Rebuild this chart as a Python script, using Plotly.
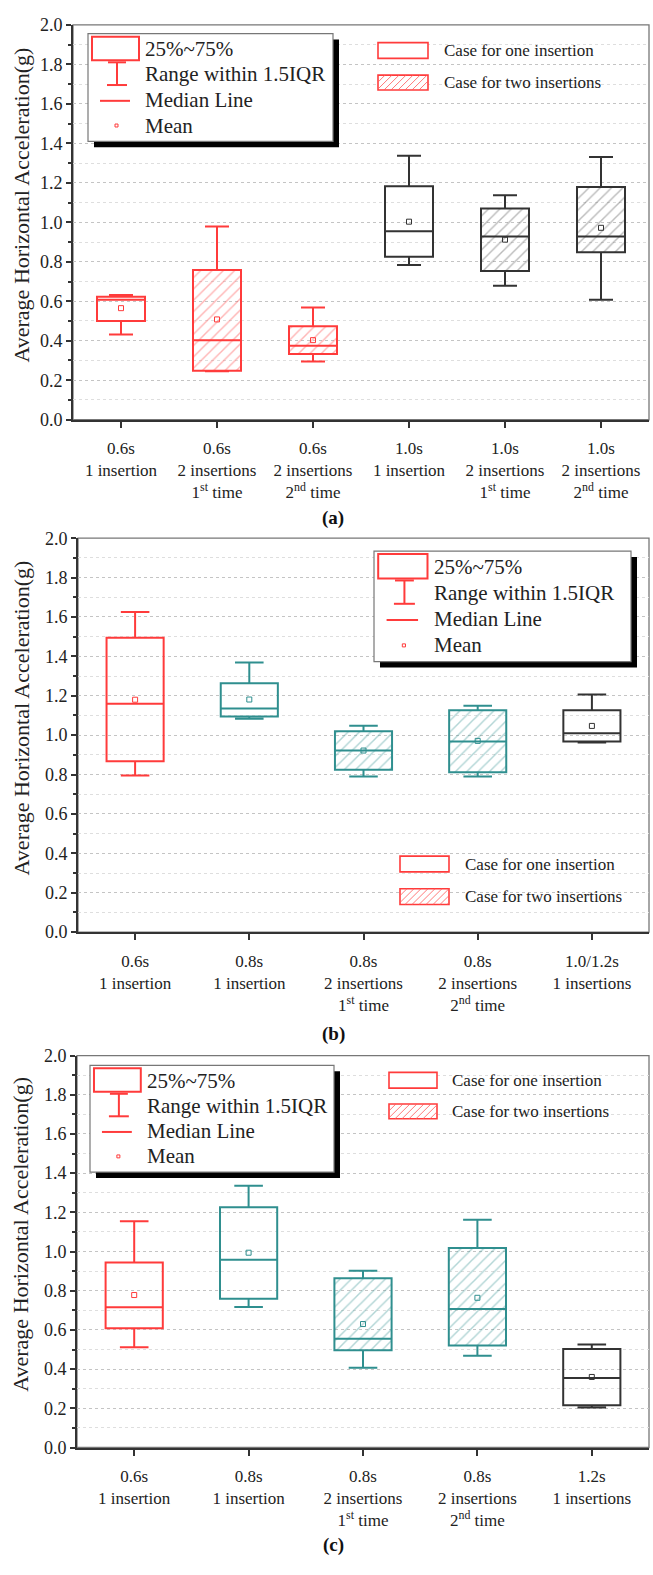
import plotly.graph_objects as go

W, H = 653, 1575
FONT = "'Times New Roman', 'Liberation Serif', 'DejaVu Serif', serif"
TXT = "#222222"

RED = "#ff3b3b"
TEAL = "#2f8f8f"
BLK = "#333333"
HATCH = {RED: "rgba(255,80,80,0.85)", TEAL: "rgba(47,143,143,0.75)", BLK: "rgba(60,60,60,0.7)"}

# ---------------- data: panel (a) ----------------
a_labels = ["0.6s<br>1 insertion", "0.6s<br>2 insertions<br>1<sup>st</sup> time",
            "0.6s<br>2 insertions<br>2<sup>nd</sup> time", "1.0s<br>1 insertion",
            "1.0s<br>2 insertions<br>1<sup>st</sup> time", "1.0s<br>2 insertions<br>2<sup>nd</sup> time"]
a_lower = [0.432, 0.245, 0.295, 0.783, 0.678, 0.608]
a_q1 = [0.500, 0.248, 0.333, 0.825, 0.753, 0.848]
a_median = [0.608, 0.403, 0.375, 0.955, 0.928, 0.928]
a_q3 = [0.623, 0.758, 0.473, 1.183, 1.070, 1.178]
a_upper = [0.632, 0.978, 0.568, 1.337, 1.137, 1.330]
a_mean = [0.565, 0.508, 0.403, 1.003, 0.912, 0.972]
a_insertions = [1, 2, 2, 1, 2, 2]

# ---------------- data: panel (b) ----------------
b_labels = ["0.6s<br>1 insertion", "0.8s<br>1 insertion",
            "0.8s<br>2 insertions<br>1<sup>st</sup> time", "0.8s<br>2 insertions<br>2<sup>nd</sup> time",
            "1.0/1.2s<br>1 insertions"]
b_lower = [0.795, 1.084, 0.790, 0.790, 0.963]
b_q1 = [0.867, 1.095, 0.825, 0.812, 0.968]
b_median = [1.159, 1.136, 0.922, 0.968, 1.010]
b_q3 = [1.495, 1.263, 1.020, 1.126, 1.126]
b_upper = [1.626, 1.369, 1.048, 1.149, 1.206]
b_mean = [1.180, 1.181, 0.922, 0.971, 1.047]
b_insertions = [1, 1, 2, 2, 1]

# ---------------- data: panel (c) ----------------
c_labels = ["0.6s<br>1 insertion", "0.8s<br>1 insertion",
            "0.8s<br>2 insertions<br>1<sup>st</sup> time", "0.8s<br>2 insertions<br>2<sup>nd</sup> time",
            "1.2s<br>1 insertions"]
c_lower = [0.511, 0.717, 0.407, 0.468, 0.204]
c_q1 = [0.608, 0.759, 0.496, 0.521, 0.215]
c_median = [0.716, 0.958, 0.555, 0.707, 0.355]
c_q3 = [0.944, 1.226, 0.864, 1.018, 0.503]
c_upper = [1.154, 1.336, 0.902, 1.162, 0.525]
c_mean = [0.778, 0.994, 0.630, 0.764, 0.360]
c_insertions = [1, 1, 2, 2, 1]

y_ticks = [0.0, 0.2, 0.4, 0.6, 0.8, 1.0, 1.2, 1.4, 1.6, 1.8, 2.0]

# ---------------- styles ----------------
a_colors = [RED, RED, RED, BLK, BLK, BLK]
b_colors = [RED, TEAL, TEAL, TEAL, BLK]
c_colors = [RED, TEAL, TEAL, TEAL, BLK]

# plot areas in pixels (left, right, top, bottom)
areas = [(73, 649, 15, 415), (78, 649, 535, 934), (77, 649, 1059, 1456)]

fig = go.Figure()
shapes = []
annotations = []


def px(x):
    return x / W


def py(y):
    return 1 - y / H


panels = [
    (a_labels, a_lower, a_q1, a_median, a_q3, a_upper, a_mean, a_insertions, a_colors),
    (b_labels, b_lower, b_q1, b_median, b_q3, b_upper, b_mean, b_insertions, b_colors),
    (c_labels, c_lower, c_q1, c_median, c_q3, c_upper, c_mean, c_insertions, c_colors),
]

for k, (labels, lo, q1, med, q3, up, mean, ins, cols) in enumerate(panels):
    sfx = "" if k == 0 else str(k + 1)
    xr, yr = "x" + sfx, "y" + sfx
    idx = list(range(len(labels)))
    # hatching for two-insertion cases
    for i in idx:
        if ins[i] == 2:
            fig.add_trace(go.Bar(
                x=[i], y=[q3[i] - q1[i]], base=[q1[i]], width=0.5,
                marker=dict(color="rgba(0,0,0,0)", line=dict(width=0),
                            pattern=dict(shape="/", fgcolor=HATCH[cols[i]], bgcolor="rgba(0,0,0,0)",
                                         size=8, solidity=0.18, fillmode="overlay")),
                xaxis=xr, yaxis=yr, showlegend=False, hoverinfo="skip"))
    for i in idx:
        fig.add_trace(go.Box(
            x=[i], q1=[q1[i]], median=[med[i]], q3=[q3[i]],
            lowerfence=[lo[i]], upperfence=[up[i]],
            width=0.5, whiskerwidth=0.5, boxpoints=False,
            line=dict(color=cols[i], width=2), fillcolor="rgba(0,0,0,0)",
            xaxis=xr, yaxis=yr, showlegend=False))
    fig.add_trace(go.Scatter(
        x=idx, y=mean, mode="markers",
        marker=dict(symbol="square-open", size=5, color=cols, line=dict(width=1)),
        xaxis=xr, yaxis=yr, showlegend=False))

    L, R, T, B = areas[k]
    ax = dict(domain=[px(L), px(R)], range=[-0.5, len(labels) - 0.5], anchor=yr,
              tickmode="array", tickvals=idx, ticktext=labels,
              ticks="outside", ticklen=6, tickwidth=1.5, tickcolor="#333",
              showline=True, linewidth=2, linecolor="#333", showgrid=False, zeroline=False,
              tickfont=dict(family=FONT, size=17, color=TXT), ticklabelstandoff=6)
    ay = dict(domain=[py(B), py(T)], range=[0, 2.0], anchor=xr,
              tickmode="array", tickvals=y_ticks, ticktext=["%.1f" % v for v in y_ticks],
              ticks="outside", ticklen=5, tickwidth=1.5, tickcolor="#333",
              showline=True, linewidth=2, linecolor="#333",
              showgrid=True, gridcolor="#c4c4c4", griddash="dot", gridwidth=1,
              minor=dict(dtick=0.1, tick0=0, ticks="outside", ticklen=3, tickcolor="#333",
                         showgrid=True, gridcolor="#dedede", griddash="dot", gridwidth=1),
              zeroline=False, tickfont=dict(family=FONT, size=18, color=TXT))
    fig.layout["xaxis" + sfx] = ax
    fig.layout["yaxis" + sfx] = ay
    # thin frame (top/right)
    shapes.append(dict(type="rect", xref=xr + " domain", yref=yr + " domain", x0=0, x1=1, y0=0, y1=1,
                       line=dict(color="#777", width=1.3), layer="below"))
    # y title
    annotations.append(dict(text="Average Horizontal Acceleration(g)", x=px(21), y=py((T + B) / 2 - 17),
                            xref="paper", yref="paper", textangle=-90, showarrow=False,
                            font=dict(family=FONT, size=22, color=TXT), xanchor="center", yanchor="middle"))

# panel captions
for cap, (cx, cy) in zip(["(a)", "(b)", "(c)"], [(333, 515), (333, 1037), (333, 1555)]):
    annotations.append(dict(text="<b>%s</b>" % cap, x=px(cx), y=py(cy), xref="paper", yref="paper",
                            showarrow=False, font=dict(family=FONT, size=19, color="#111"),
                            xanchor="center", yanchor="middle"))


# ---------------- statistics legend (decoration) ----------------
def stat_legend(x0, y0, x1, y1):
    sx = (x1 - x0) / 245.0
    sy = (y1 - y0) / 109.0
    X = lambda d: x0 + d * sx
    Y = lambda d: y0 + d * sy
    shapes.append(dict(type="rect", xref="paper", yref="paper", x0=px(x0 + 6), x1=px(x1 + 6),
                       y0=py(y1 + 6), y1=py(y0 + 6), fillcolor="#000", line=dict(width=0)))
    shapes.append(dict(type="rect", xref="paper", yref="paper", x0=px(x0), x1=px(x1),
                       y0=py(y1), y1=py(y0), fillcolor="#fff", line=dict(color="#777", width=1.2)))
    # box symbol
    shapes.append(dict(type="rect", xref="paper", yref="paper", x0=px(X(4)), x1=px(X(51)),
                       y0=py(Y(27)), y1=py(Y(3)), line=dict(color=RED, width=2)))
    # whisker symbol
    cx = X(29)
    for (a, b, c, d) in [(cx, Y(29), cx, Y(52)), (cx - 9 * sx, Y(29), cx + 9 * sx, Y(29)),
                         (cx - 10 * sx, Y(52), cx + 10 * sx, Y(52))]:
        shapes.append(dict(type="line", xref="paper", yref="paper", x0=px(a), y0=py(b), x1=px(c), y1=py(d),
                           line=dict(color=RED, width=2)))
    # median line symbol
    shapes.append(dict(type="line", xref="paper", yref="paper", x0=px(X(12)), y0=py(Y(68)),
                       x1=px(X(42)), y1=py(Y(68)), line=dict(color=RED, width=2)))
    # mean symbol
    shapes.append(dict(type="rect", xref="paper", yref="paper", x0=px(X(27)), x1=px(X(30)),
                       y0=py(Y(94.5)), y1=py(Y(91.5)), line=dict(color=RED, width=1)))
    for txt, d in zip(["25%~75%", "Range within 1.5IQR", "Median Line", "Mean"], [16, 41, 67, 93]):
        annotations.append(dict(text=txt, x=px(X(55)), y=py(Y(d)), xref="paper", yref="paper",
                                showarrow=False, xanchor="left", yanchor="middle",
                                font=dict(family=FONT, size=21, color=TXT)))


def case_legend(sx0, sx1, r1, r2, tx):
    for (ya, yb), txt, hatch in [(r1, "Case for one insertion", False), (r2, "Case for two insertions", True)]:
        shapes.append(dict(type="rect", xref="paper", yref="paper", x0=px(sx0), x1=px(sx1),
                           y0=py(yb), y1=py(ya), line=dict(color=RED, width=1.6), fillcolor="#fff"))
        if hatch:
            h = yb - ya
            u = sx0 - h
            while u < sx1:
                t0 = max(0.0, sx0 - u)
                t1 = min(h, sx1 - u)
                if t1 > t0:
                    shapes.append(dict(type="line", xref="paper", yref="paper",
                                       x0=px(u + t0), y0=py(yb - t0), x1=px(u + t1), y1=py(yb - t1),
                                       line=dict(color="rgba(255,90,90,0.8)", width=1)))
                u += 7
        annotations.append(dict(text=txt, x=px(tx), y=py((ya + yb) / 2), xref="paper", yref="paper",
                                showarrow=False, xanchor="left", yanchor="middle",
                                font=dict(family=FONT, size=17, color=TXT)))


stat_legend(88, 24, 333, 133)
case_legend(378, 428, (33, 49), (66, 81), 442)
stat_legend(374, 548, 631, 660)
case_legend(400, 449, (857, 873), (890, 906), 463)
stat_legend(90, 1069, 334, 1177)
case_legend(389, 437, (1076, 1092), (1108, 1123), 450)

fig.update_layout(width=W, height=H, margin=dict(l=0, r=0, t=0, b=0),
                  paper_bgcolor="#fff", plot_bgcolor="#fff", barmode="overlay",
                  font=dict(family=FONT, color=TXT),
                  shapes=shapes, annotations=annotations, showlegend=False)

fig.write_html("out.html")
